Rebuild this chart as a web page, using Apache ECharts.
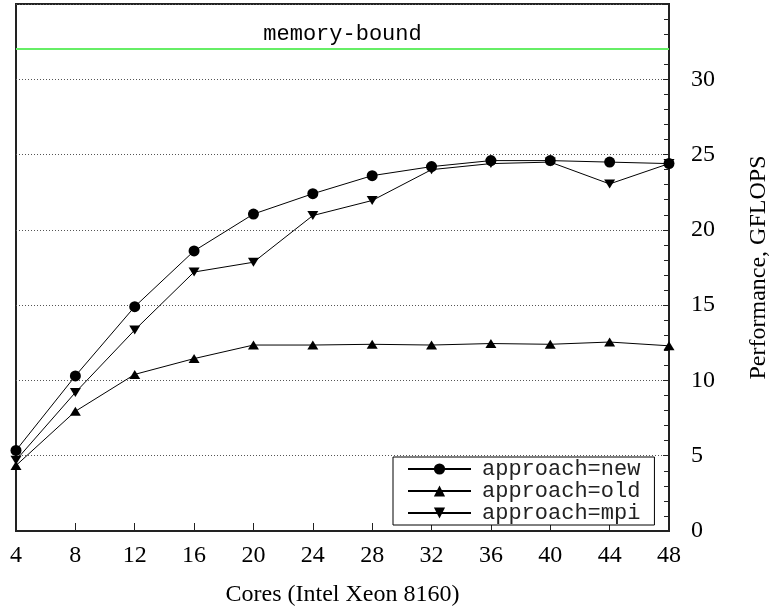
<!DOCTYPE html>
<html>
<head>
<meta charset="utf-8">
<script src="https://cdn.jsdelivr.net/npm/echarts@6/dist/echarts.min.js"></script>
<style>
html,body{margin:0;padding:0;background:#fff;}
#chart{width:779px;height:612px;}
</style>
</head>
<body>
<div id="chart"></div>
<script>
const cores = [4, 8, 12, 16, 20, 24, 28, 32, 36, 40, 44, 48];
const seriesNames = ['approach=new', 'approach=old', 'approach=mpi'];
const newVals = [5.35, 10.3, 14.9, 18.6, 21.05, 22.4, 23.6, 24.2, 24.6, 24.6, 24.5, 24.4];
const oldVals = [4.35, 7.95, 10.4, 11.45, 12.35, 12.35, 12.4, 12.35, 12.45, 12.4, 12.55, 12.3];
const mpiVals = [4.7, 9.2, 13.35, 17.2, 17.85, 20.95, 21.95, 24.0, 24.4, 24.5, 23.05, 24.4];
const memoryBound = 32;
const memoryLabel = 'memory-bound';
const xName = 'Cores (Intel Xeon 8160)';
const yName = 'Performance, GFLOPS';

const pairs = vals => cores.map((c, i) => [c, vals[i]]);
const serif = 'Liberation Serif';
const mono = 'Liberation Mono';
const downTri = 'path://M0,0 L12,0 L6,10 Z';

const chart = echarts.init(document.getElementById('chart'), null, {renderer: 'canvas'});
const baseSeries = (name, vals, symbol, size) => ({
  name: name,
  type: 'line',
  data: pairs(vals),
  symbol: symbol,
  symbolSize: size,
  clip: false,
  lineStyle: {color: '#000', width: 1},
  itemStyle: {color: '#000'},
  emphasis: {disabled: true},
  animation: false
});
const sNew = baseSeries(seriesNames[0], newVals, 'circle', 11);
sNew.markLine = {
  silent: true,
  symbol: ['none', 'none'],
  lineStyle: {color: '#66ee66', width: 2, type: 'solid'},
  label: {
    show: true,
    position: 'insideMiddleTop',
    formatter: memoryLabel,
    fontFamily: mono,
    fontSize: 22,
    color: '#000',
    distance: 4
  },
  data: [{yAxis: memoryBound}],
  animation: false
};
const sOld = baseSeries(seriesNames[1], oldVals, 'triangle', [11, 9]);
const sMpi = baseSeries(seriesNames[2], mpiVals, downTri, [11, 9]);

chart.setOption({
  animation: false,
  backgroundColor: '#fff',
  grid: {
    left: 16, right: 101, top: 4, bottom: 79,
    show: true, borderColor: '#222', borderWidth: 2, backgroundColor: 'transparent'
  },
  legend: {
    data: seriesNames,
    orient: 'vertical',
    left: 393,
    top: 457,
    itemWidth: 63,
    itemHeight: 14,
    itemGap: 0,
    padding: [1, 14, 1, 14],
    borderColor: '#000',
    borderWidth: 1,
    backgroundColor: '#fff',
    borderRadius: 0,
    selectedMode: false,
    textStyle: {fontFamily: mono, fontSize: 22, color: '#222', lineHeight: 22, padding: [0, 0, 0, 6]}
  },
  xAxis: {
    type: 'value',
    min: 4, max: 48, interval: 4,
    name: xName,
    nameLocation: 'middle',
    nameGap: 52,
    nameTextStyle: {fontFamily: serif, fontSize: 24, color: '#000'},
    axisLine: {show: true, lineStyle: {color: '#222', width: 2}},
    axisTick: {show: true, inside: true, length: 8, lineStyle: {color: '#222', width: 1}},
    axisLabel: {fontFamily: serif, fontSize: 24, color: '#000', margin: 13},
    splitLine: {show: false}
  },
  yAxis: {
    type: 'value',
    position: 'right',
    min: 0, max: 35, interval: 5,
    name: yName,
    nameLocation: 'middle',
    nameRotate: 90,
    nameGap: 78,
    nameTextStyle: {fontFamily: serif, fontSize: 24, color: '#000'},
    axisLine: {show: true, lineStyle: {color: '#222', width: 2}},
    axisTick: {show: true, inside: true, length: 6, lineStyle: {color: '#222', width: 1}},
    minorTick: {show: true, splitNumber: 5, length: 5, lineStyle: {color: '#222', width: 1}},
    axisLabel: {fontFamily: serif, fontSize: 24, color: '#000', margin: 22, showMaxLabel: false},
    splitLine: {show: true, lineStyle: {color: '#555', width: 1, type: [1, 2]}}
  },
  series: [sNew, sOld, sMpi]
});
</script>
</body>
</html>
